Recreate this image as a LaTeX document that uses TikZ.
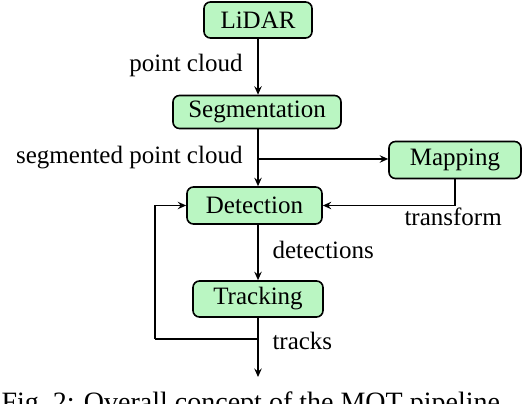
\documentclass[tikz,border=0pt]{standalone}
\usepackage{fontspec}
\setmainfont{Liberation Serif}
\usetikzlibrary{arrows.meta}
\definecolor{boxgreen}{RGB}{186,246,194}
\begin{document}
\begin{tikzpicture}[x=0.4pt,y=-0.4pt,
  blk/.style={draw=black,line width=0.65pt,fill=boxgreen,rounded corners=2.6pt,
    inner sep=0pt,font=\fontsize{10}{12}\selectfont},
  lbl/.style={font=\fontsize{10}{12}\selectfont,inner sep=0pt},
  conn/.style={line width=0.5pt,-{Stealth[length=3.4pt,width=3pt,inset=1.2pt,open]}}]
\useasboundingbox (0,0) rectangle (530,404);
\begin{scope}
\clip (0,0) rectangle (530,404);
\node[blk,minimum width=108*0.4pt,minimum height=36*0.4pt] (lidar) at (258,20) {LiDAR};
\node[blk,minimum width=168*0.4pt,minimum height=33*0.4pt] (seg) at (257,112) {Segmentation};
\node[blk,minimum width=132*0.4pt,minimum height=37*0.4pt] (map) at (455,160) {Mapping};
\node[blk,minimum width=135*0.4pt,minimum height=37*0.4pt] (det) at (254.5,205.5) {Detection};
\node[blk,minimum width=130*0.4pt,minimum height=36*0.4pt] (trk) at (258,299) {Tracking};
\coordinate (split) at (258,159);
\coordinate (fb) at (258,339);
\coordinate (fbl) at (155,339);
\coordinate (out) at (258,377);
\draw[conn] (lidar.south -| 258,0) -- (seg.north -| 258,0);
\draw[conn] (seg.south -| split) -- (split |- det.north);
\draw[conn] (split) -- (map.west |- split);
\draw[conn] (map.south) |- (det.east);
\draw[conn] (det.south -| 258,0) -- (trk.north -| 258,0);
\draw[conn] (trk.south -| 258,0) -- (out);
\draw[line width=0.5pt] (fb) -- (fbl);
\draw[conn] (fbl) |- (det.west);
\node[lbl,anchor=base east] (l1) at (243,72) {point cloud};
\node[lbl,anchor=base east] (l2) at (243,164) {segmented point cloud};
\node[lbl,anchor=base west] (l3) at (404,226) {transform};
\node[lbl,anchor=base west] (l4) at (272,259) {detections};
\node[lbl,anchor=base west] (l5) at (272,349) {tracks};
\node[lbl,anchor=base west,font=\fontsize{11.2}{13}\selectfont] (cap) at (1,411) {Fig.~2: Overall concept of the MOT pipeline.};
\end{scope}
\end{tikzpicture}
\end{document}
